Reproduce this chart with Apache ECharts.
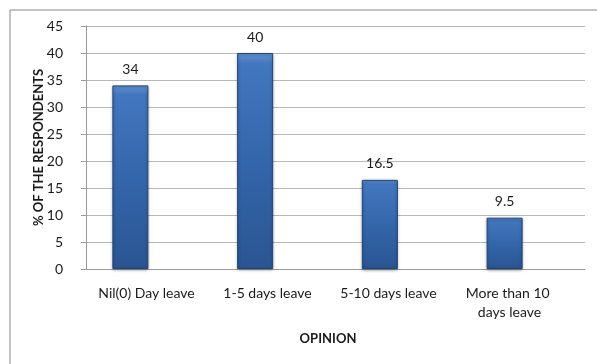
<!DOCTYPE html>
<html>
<head>
<meta charset="utf-8">
<script src="https://cdn.jsdelivr.net/npm/echarts@6/dist/echarts.min.js"></script>
<style>
  html, body { margin: 0; padding: 0; background: #fff; }
  #chart { width: 597px; height: 364px; }
</style>
</head>
<body>
<div id="chart"></div>
<script>
// Share of respondents by opinion on leave taken
const categories = ['Nil(0) Day leave', '1-5 days leave', '5-10 days leave', 'More than 10 days leave'];
const respondents = [34, 40, 16.5, 9.5];
const yTicks = { min: 0, max: 45, interval: 5 };

const FONT = 'Lato, "Open Sans", sans-serif';

const chart = echarts.init(document.getElementById('chart'), null, { renderer: 'canvas' });

const barFill = new echarts.graphic.LinearGradient(0, 0, 0, 1, [
  { offset: 0, color: '#6393d2' },
  { offset: 0.05, color: '#4276be' },
  { offset: 0.5, color: '#3466ab' },
  { offset: 1, color: '#2a5592' }
]);

chart.setOption({
  animation: false,
  backgroundColor: '#ffffff',
  graphic: [{
    type: 'rect',
    left: 7.5, top: 7.5,
    shape: { width: 800, height: 600 },
    style: { fill: 'none', stroke: '#868686', lineWidth: 1 },
    silent: true
  }],
  grid: [
    { left: 86, right: 12, top: 26, bottom: 95, containLabel: false },
    { left: 86, right: 27, top: 26, bottom: 95, containLabel: false }
  ],
  xAxis: [
    {
      type: 'category',
      gridIndex: 0,
      data: categories,
      axisLine: { show: true, lineStyle: { color: '#9a9a9a', width: 1 } },
      axisTick: { show: false },
      axisLabel: { show: false }
    },
    {
      type: 'category',
      gridIndex: 1,
      data: categories,
      axisLine: { show: false },
      axisTick: { show: false },
      axisLabel: {
        show: true,
        interval: 0,
        margin: 15,
        color: '#1a1a1a',
        fontFamily: FONT,
        fontSize: 14,
        lineHeight: 19,
        width: 108,
        overflow: 'break'
      },
      name: 'OPINION',
      nameLocation: 'middle',
      nameGap: 63,
      nameMoveOverlap: false,
      nameTextStyle: { color: '#1a1a1a', fontFamily: FONT, fontSize: 13, fontWeight: 'bold' }
    }
  ],
  yAxis: [
    {
      type: 'value',
      gridIndex: 0,
      min: yTicks.min,
      max: yTicks.max,
      interval: yTicks.interval,
      axisLine: { show: true, lineStyle: { color: '#9a9a9a', width: 1 } },
      axisTick: { show: true, length: 5, lineStyle: { color: '#9a9a9a' } },
      splitLine: { show: true, lineStyle: { color: '#b8b8b8', width: 1 } },
      axisLabel: {
        color: '#1a1a1a',
        fontFamily: FONT,
        fontSize: 14,
        margin: 23
      },
      name: '% OF THE RESPONDENTS',
      nameLocation: 'middle',
      nameGap: 41,
      nameMoveOverlap: false,
      nameRotate: 90,
      nameTextStyle: { color: '#1a1a1a', fontFamily: FONT, fontSize: 13, fontWeight: 'bold' }
    },
    {
      type: 'value',
      gridIndex: 1,
      min: yTicks.min,
      max: yTicks.max,
      interval: yTicks.interval,
      show: false
    }
  ],
  series: [
    {
      type: 'bar',
      xAxisIndex: 0,
      yAxisIndex: 0,
      data: respondents,
      barWidth: 36,
      barGap: '0%',
      itemStyle: {
        color: barFill,
        borderColor: '#23457a',
        borderWidth: 1,
        shadowColor: 'rgba(0,0,0,0.35)',
        shadowBlur: 3,
        shadowOffsetX: 0,
        shadowOffsetY: 1
      },
      label: {
        show: true,
        position: 'top',
        distance: 9,
        color: '#1a1a1a',
        fontFamily: FONT,
        fontSize: 14
      }
    },
    {
      // empty companion series so the visible bars sit left of each slot centre
      type: 'bar',
      xAxisIndex: 0,
      yAxisIndex: 0,
      data: categories.map(() => null),
      barWidth: 36,
      barGap: '0%',
      silent: true
    }
  ]
});
</script>
</body>
</html>
